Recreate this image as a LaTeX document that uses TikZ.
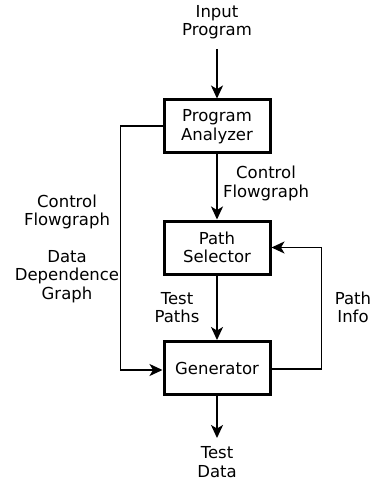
\documentclass[tikz,border=0pt]{standalone}
\usepackage{fontspec}
\setmainfont{DejaVu Sans}
\usetikzlibrary{arrows.meta}
\begin{document}
\begin{tikzpicture}[x=1pt,y=-1pt,
  every node/.style={font=\fontsize{16.5}{18.5}\selectfont, align=center, inner sep=0pt},
  block/.style={draw, line width=3pt, minimum width=106, minimum height=53},
  flow/.style={line width=1.5pt, -{Stealth[length=13pt,width=12pt,inset=3.5pt]}}]
\useasboundingbox (0,0) rectangle (374,481);
% processing blocks
\node[block] (pa)  at (217,126.5) {Program\\Analyzer};
\node[block] (ps)  at (217,247.5) {Path\\Selector};
\node[block] (gen) at (217,368)   {Generator};
% input and output texts
\node (in)  at (217,22)  {Input\\Program};
\node (out) at (217,462) {Test\\Data};
% edge labels
\node (cf)  at (266,183.5) {Control\\Flowgraph};
\node (cfl) at (67,212)    {Control\\Flowgraph};
\node (ddg) at (67,276.5)  {Data\\Dependence\\Graph};
\node (tp)  at (177,307.5) {Test\\Paths};
\node (pi)  at (353,307.5) {Path\\Info};
% connectors
\coordinate (inend) at (217,49);
\draw[flow] (inend) -- (pa.north);
\draw[flow] (pa.south) -- (ps.north);
\draw[flow] (ps.south) -- (gen.north);
\draw[flow] (gen.south) -- ++(0,42) coordinate (outend);
\draw[flow] ([yshift=0.5pt]pa.west) -- ++(-42,0) coordinate (lc) |- ([yshift=-2pt]gen.west);
\draw[flow] ([yshift=-1pt]gen.east) -- ++(50,0) coordinate (rc) |- (ps.east);
\end{tikzpicture}
\end{document}
